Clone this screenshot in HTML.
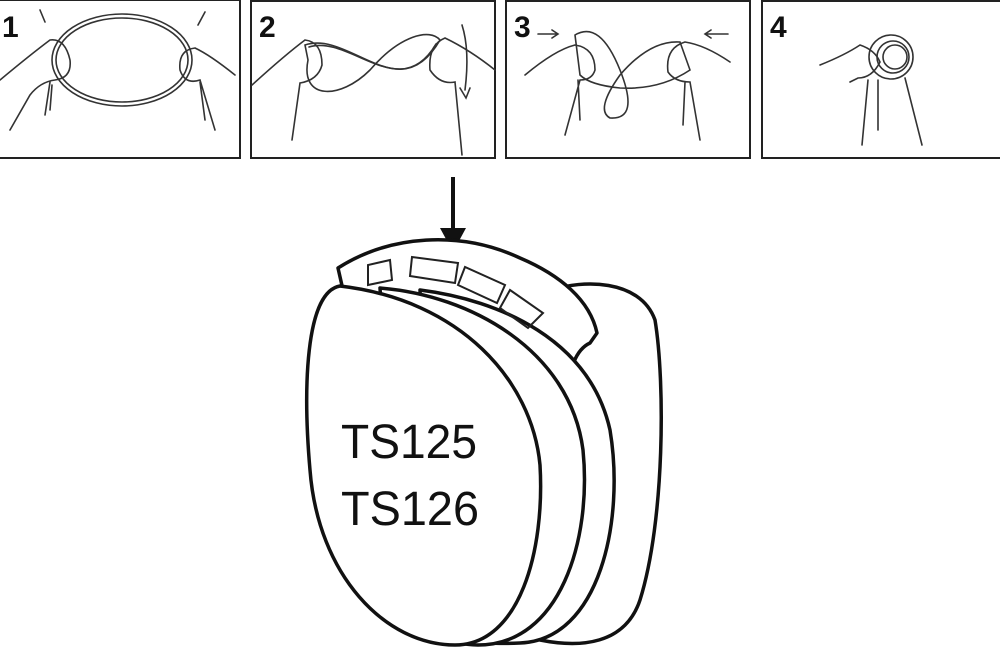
<!DOCTYPE html>
<html><head><style>
html,body{margin:0;padding:0;background:#fff;width:1000px;height:659px;overflow:hidden}
</style></head><body>
<svg width="1000" height="659" viewBox="0 0 1000 659" xmlns="http://www.w3.org/2000/svg">
<g fill="none" stroke="#222" stroke-width="2">
<rect x="-2" y="0" width="242" height="158"/>
<rect x="251" y="1" width="244" height="157"/>
<rect x="506" y="1" width="244" height="157"/>
<rect x="762" y="1" width="240" height="157"/>
</g>
<g font-family="Liberation Sans, sans-serif" font-weight="bold" font-size="30" fill="#111">
<text x="2" y="37">1</text><text x="259" y="37">2</text><text x="514" y="37">3</text><text x="770" y="37">4</text>
</g>
<g fill="none" stroke="#333" stroke-width="1.6" stroke-linecap="round">
<ellipse cx="122" cy="60" rx="70" ry="46"/><ellipse cx="122" cy="60" rx="66" ry="42"/>
<path d="M0 80 Q30 55 50 40 Q65 38 70 60 Q72 78 55 80 Q40 82 30 95 L10 130"/>
<path d="M50 82 L45 115 M52 85 L50 110"/>
<path d="M235 75 Q210 55 195 48 Q178 50 180 70 Q185 85 200 80 L215 130 M200 82 L205 120"/>
<path d="M40 10 L45 22 M205 12 L198 25"/>
<path d="M305 45 C350 30 400 110 440 40 C430 28 400 35 370 70 C340 100 300 100 308 60 Z"/>
<path d="M309 47 C350 34 400 105 436 44"/>
<path d="M252 85 Q285 55 305 40 Q322 42 322 65 Q318 80 300 83 L292 140"/>
<path d="M495 70 Q470 50 445 38 Q428 45 430 70 Q440 85 455 82 L462 155"/>
<path d="M462 25 Q470 50 465 90" /><path d="M460 88 L466 98 L470 88"/>
<path d="M575 35 Q600 20 620 70 Q640 120 610 118 Q595 110 620 75 Q650 40 680 42 L690 70 Q660 90 620 88 Q590 85 580 75 Z"/>
<path d="M525 75 Q555 50 575 45 Q595 48 595 70 Q592 80 580 80 L565 135 M578 80 L580 120"/>
<path d="M730 62 Q705 45 685 42 Q665 48 668 72 Q675 82 690 82 L700 140 M685 82 L683 125"/>
<path d="M538 34 L558 34 M552 30 L558 34 L552 38 M728 34 L705 34 M711 30 L705 34 L711 38"/>
<circle cx="891" cy="57" r="22"/><circle cx="893" cy="57" r="16"/><circle cx="895" cy="57" r="12"/>
<path d="M820 65 Q845 55 860 45 Q875 50 880 62 Q872 78 858 78 L850 82 M868 80 L862 145 M878 80 L878 130 M905 78 L922 145"/>
</g>
<line x1="453" y1="177" x2="453" y2="230" stroke="#111" stroke-width="4"/>
<polygon points="440,228 466,228 453,252" fill="#111"/>
<g fill="#fff" stroke="#111" stroke-width="3.5" stroke-linejoin="round">
<path d="M553 290 C580 280 640 278 655 320 C665 380 665 520 640 600 C625 645 580 648 540 640 Z"/>
<path d="M338 268 C390 235 460 230 520 258 C560 275 590 300 597 333 L590 343 C575 350 570 370 567 390 L500 330 L343 290 Z"/>
<path d="M420 290 C500 300 590 340 610 430 C625 520 600 640 520 643 C480 645 450 640 430 620 Z"/>
<path d="M380 288 C470 295 570 350 583 450 C592 540 560 645 478 645 C450 645 420 630 400 600 Z"/>
<path d="M340 286 C305 292 303 390 310 470 C318 575 385 645 455 645 C520 645 545 550 540 465 C532 380 460 300 340 286 Z"/>
</g>
<g fill="none" stroke="#222" stroke-width="2">
<path d="M368 265 L368 285 L392 280 L390 260 Z"/>
<path d="M412 257 L410 276 L455 283 L458 263 Z"/>
<path d="M465 267 L458 285 L497 303 L505 285 Z"/>
<path d="M510 290 L500 308 L528 328 L543 313 Z"/>
</g>
<g font-family="Liberation Sans, sans-serif" font-size="48" fill="#111">
<text x="341" y="458" textLength="136" lengthAdjust="spacingAndGlyphs">TS125</text><text x="341" y="525" textLength="138" lengthAdjust="spacingAndGlyphs">TS126</text>
</g>
</svg>
</body></html>
